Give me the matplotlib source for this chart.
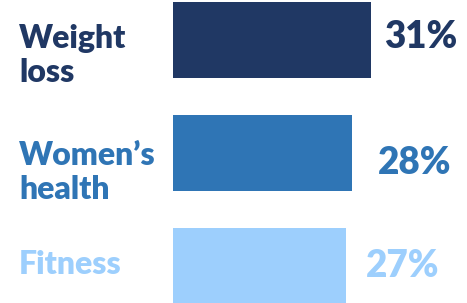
import matplotlib
matplotlib.use("Agg")
import matplotlib.pyplot as plt

categories = ["Weight\nloss", "Women\u2019s\nhealth", "Fitness"]
values = [31, 28, 27]
value_labels = ["31%", "28%", "27%"]
colors = ["#203864", "#2F75B5", "#9DCFFD"]

fig = plt.figure(figsize=(4.67, 3.03), dpi=100)
ax = fig.add_axes([0, 0, 1, 1])
ypos = list(range(len(values)))
ax.barh(ypos, values, height=0.67, color=colors)
ax.set_xlim(-27.07, 46.0)
ax.set_ylim(2.327, -0.354)
ax.axis("off")

label_dy = [0.14, 0.17, -0.01]
value_dy = [-0.03, 0.09, 0.0]
value_dx = [2.0, 4.0, 3.2]
for y, cat, v, vl, c, ldy, vdy, vdx in zip(ypos, categories, values, value_labels, colors, label_dy, value_dy, value_dx):
    ax.text(-24.1, y + ldy, cat, ha="left", va="center", color=c,
            fontsize=23, fontweight="heavy", family="Lato", linespacing=1.2)
    ax.text(v + vdx, y + vdy, vl, ha="left", va="center", color=c,
            fontsize=26.5, fontweight="heavy", family="Lato")

fig.savefig("out.png", dpi=100)
